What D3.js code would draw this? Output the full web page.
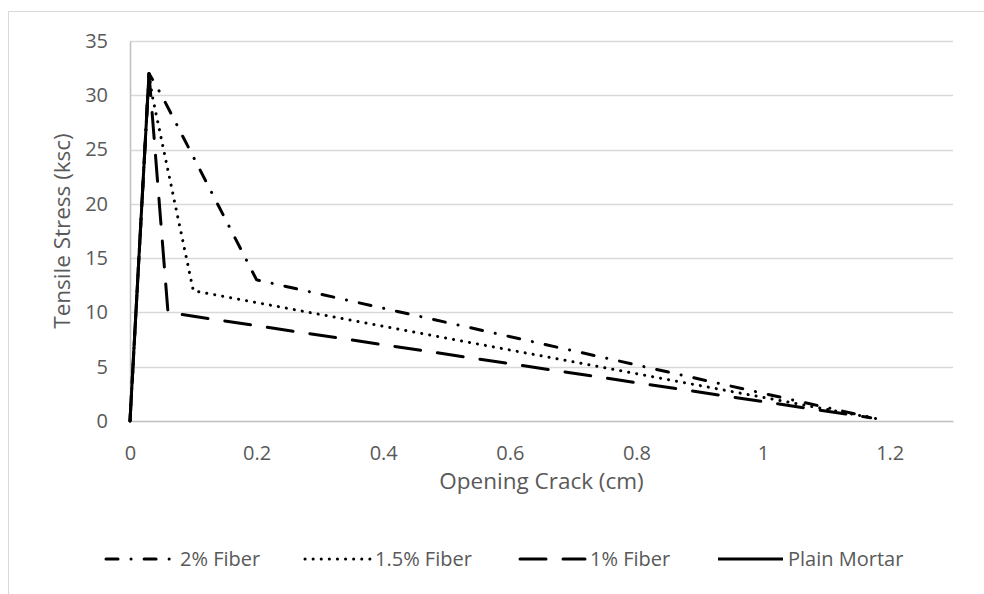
<!DOCTYPE html>
<html>
<head>
<meta charset="utf-8">
<script src="https://cdn.jsdelivr.net/npm/d3@7"></script>
<style>
  body { margin: 0; background: #fff; }
  text { font-family: "Open Sans", "Noto Sans", sans-serif; fill: #595959; }
</style>
</head>
<body>
<script>
// opening crack (cm) vs tensile stress (ksc)
var fiber2X = [0, 0.03, 0.05, 0.2, 1.18],
    fiber2Y = [0, 32, 30, 13, 0.2];
var fiber15X = [0, 0.03, 0.035, 0.1, 1.19],
    fiber15Y = [0, 32, 30, 12, 0.1];
var fiber1X = [0, 0.03, 0.06, 1.17],
    fiber1Y = [0, 32, 10, 0.3];
var plainX = [0, 0.03],
    plainY = [0, 32];

var seriesNames = ["2% Fiber", "1.5% Fiber", "1% Fiber", "Plain Mortar"];
var xTicks = [0, 0.2, 0.4, 0.6, 0.8, 1, 1.2];
var yTicks = [0, 5, 10, 15, 20, 25, 30, 35];

var width = 984,
    height = 594,
    margin = {top: 41, right: 31, bottom: 173, left: 130};

var svg = d3.select("body")
  .append("svg")
    .attr("width", width)
    .attr("height", height);

// chart frame
svg.append("rect")
    .attr("x", 8.5)
    .attr("y", 11.5)
    .attr("width", width)
    .attr("height", height)
    .attr("fill", "none")
    .attr("stroke", "#d9d9d9");

var x = d3.scaleLinear()
    .domain([0, 1.3])
    .range([margin.left, width - margin.right]);

var y = d3.scaleLinear()
    .domain([0, 35])
    .range([height - margin.bottom, margin.top]);

// gridlines
svg.append("g")
  .selectAll("line")
  .data(yTicks.slice(1))
  .enter().append("line")
    .attr("x1", x.range()[0])
    .attr("x2", x.range()[1])
    .attr("y1", function(d) { return Math.round(y(d)) + 0.5; })
    .attr("y2", function(d) { return Math.round(y(d)) + 0.5; })
    .attr("stroke", "#d9d9d9")
    .attr("stroke-width", 1.5);

var xAxis = svg.append("g")
    .attr("transform", "translate(0," + y(0) + ")")
    .call(d3.axisBottom(x).tickValues(xTicks).tickSize(0).tickPadding(25)
      .tickFormat(function(d) { return d3.format("")(d); }));
xAxis.select(".domain").attr("stroke", "#bfbfbf").attr("stroke-width", 1.5);
xAxis.selectAll("text").attr("font-size", 20).attr("fill", "#595959");

var yAxis = svg.append("g")
    .attr("transform", "translate(" + x(0) + ",0)")
    .call(d3.axisLeft(y).tickValues(yTicks).tickSize(0).tickPadding(22));
yAxis.select(".domain").attr("stroke", "#bfbfbf").attr("stroke-width", 1.5);
yAxis.selectAll("text").attr("font-size", 20).attr("fill", "#595959");

svg.append("text")
    .attr("x", (x.range()[0] + x.range()[1]) / 2)
    .attr("y", 489)
    .attr("text-anchor", "middle")
    .attr("font-size", 22.5)
    .text("Opening Crack (cm)");

svg.append("text")
    .attr("transform", "translate(70," + (y(0) + y(35)) / 2 + ") rotate(-90)")
    .attr("text-anchor", "middle")
    .attr("font-size", 22.5)
    .text("Tensile Stress (ksc)");

var styles = [
  {dash: "12,13,0.1,13", cap: "round"},
  {dash: "0.1,8", cap: "round"},
  {dash: "26,17", cap: "round"},
  {dash: null, cap: "butt"}
];

var series = [
  d3.zip(fiber2X, fiber2Y),
  d3.zip(fiber15X, fiber15Y),
  d3.zip(fiber1X, fiber1Y),
  d3.zip(plainX, plainY)
];

var line = d3.line()
    .x(function(d) { return x(d[0]); })
    .y(function(d) { return y(d[1]); });

svg.append("g")
  .selectAll("path")
  .data(series)
  .enter().append("path")
    .attr("d", line)
    .attr("fill", "none")
    .attr("stroke", "#000")
    .attr("stroke-width", 3)
    .attr("stroke-linejoin", "round")
    .attr("stroke-linecap", function(d, i) { return styles[i].cap; })
    .attr("stroke-dasharray", function(d, i) { return styles[i].dash; });

// legend
var legendX = [104, 303, 518, 716];
var leg = svg.append("g")
  .selectAll("g")
  .data(seriesNames)
  .enter().append("g")
    .attr("transform", function(d, i) { return "translate(" + legendX[i] + ",559)"; });

leg.append("line")
    .attr("x1", 2)
    .attr("x2", 67)
    .attr("stroke", "#000")
    .attr("stroke-width", 3)
    .attr("stroke-linecap", function(d, i) { return styles[i].cap; })
    .attr("stroke-dasharray", function(d, i) { return styles[i].dash; });

leg.append("text")
    .attr("x", function(d, i) { return i == 0 ? 76 : 72; })
    .attr("dy", "0.35em")
    .attr("font-size", 20)
    .text(function(d) { return d; });
</script>
</body>
</html>
